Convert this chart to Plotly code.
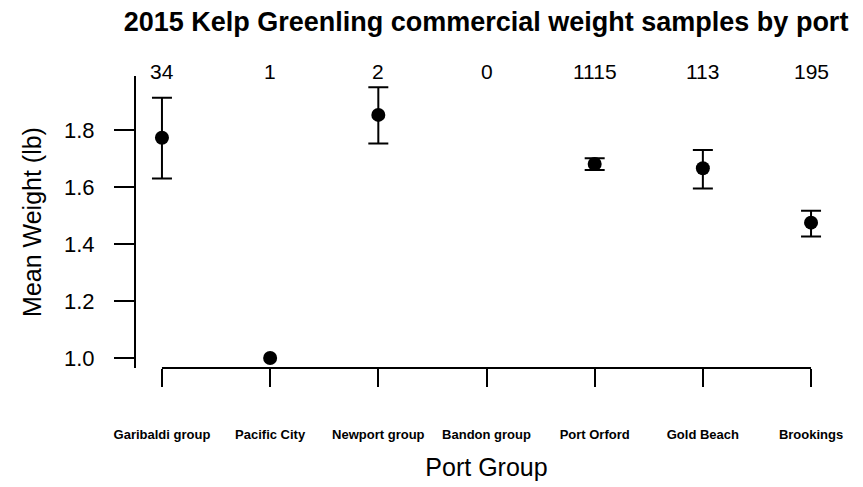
import plotly.graph_objects as go

ports = ["Garibaldi group", "Pacific City", "Newport group", "Bandon group",
         "Port Orford", "Gold Beach", "Brookings"]
counts = [34, 1, 2, 0, 1115, 113, 195]
means = [1.773, 1.0, 1.853, None, 1.681, 1.666, 1.475]
upper = [1.913, None, 1.950, None, 1.701, 1.730, 1.517]
lower = [1.630, None, 1.753, None, 1.660, 1.595, 1.426]
y_ticks = [1.0, 1.2, 1.4, 1.6, 1.8]

xs = list(range(len(ports)))

# points with an interval
ie = [i for i in xs if upper[i] is not None and means[i] is not None]
# points without an interval (single sample)
ip = [i for i in xs if upper[i] is None and means[i] is not None]

FONT = "Liberation Sans, Arial, sans-serif"

fig = go.Figure()
fig.add_trace(go.Scatter(
    x=[xs[i] for i in ie], y=[means[i] for i in ie], mode="markers",
    marker=dict(color="black", size=14, symbol="circle"),
    error_y=dict(type="data", symmetric=False,
                 array=[upper[i] - means[i] for i in ie],
                 arrayminus=[means[i] - lower[i] for i in ie],
                 color="black", thickness=2, width=10),
    showlegend=False,
))
fig.add_trace(go.Scatter(
    x=[xs[i] for i in ip], y=[means[i] for i in ip], mode="markers",
    marker=dict(color="black", size=14, symbol="circle"),
    showlegend=False,
))

# sample counts above each port
for x, n in zip(xs, counts):
    fig.add_annotation(x=x, y=1, xref="x", yref="paper", text=str(n), showarrow=False,
                       yanchor="middle", yshift=5, font=dict(family=FONT, size=21, color="black"))

# x axis line spanning first to last tick (R-style)
fig.add_shape(type="line", xref="x", yref="paper", x0=xs[0], x1=xs[-1], y0=0, y1=0,
              line=dict(color="black", width=2))

fig.update_layout(
    width=863, height=487,
    margin=dict(l=128, r=34, t=68, b=127),
    paper_bgcolor="white", plot_bgcolor="white",
    title=dict(text="<b>2015 Kelp Greenling commercial weight samples by port</b>",
               x=478 / 863, xanchor="center", y=1 - 14 / 487, yanchor="middle",
               yref="container", font=dict(family=FONT, size=27, color="black")),
    xaxis=dict(range=[-0.24, 6.24], tickmode="array", tickvals=xs, ticktext=ports,
               showgrid=False, zeroline=False, showline=False, automargin=False,
               ticks="outside", ticklen=18, tickwidth=2, tickcolor="black",
               ticklabelstandoff=36,
               tickfont=dict(family=FONT, size=13, color="black", weight="bold"),
               title=dict(text="Port Group", standoff=17,
                          font=dict(family=FONT, size=25, color="black"))),
    yaxis=dict(range=[0.965, 1.9895], tickmode="array", tickvals=y_ticks,
               tickformat=".1f", showgrid=False, zeroline=False, automargin=False,
               showline=True, linecolor="black", linewidth=2,
               ticks="outside", ticklen=20, tickwidth=2, tickcolor="black",
               ticklabelstandoff=15,
               tickfont=dict(family=FONT, size=22, color="black"),
               title=dict(text="Mean Weight (lb)", standoff=15,
                          font=dict(family=FONT, size=25, color="black"))),
)

fig.write_html("out.html")
